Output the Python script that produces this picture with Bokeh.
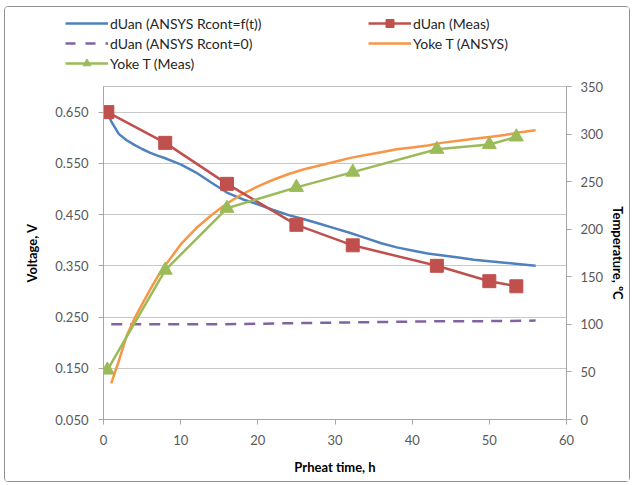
from bokeh.plotting import figure
from bokeh.layouts import column, row
from bokeh.models import Range1d, LinearAxis, FixedTicker, Legend, LegendItem, NumeralTickFormatter
from bokeh.embed import file_html
from bokeh.resources import INLINE

# ---- data ----
t_sim = [0.5, 1, 2, 3, 4, 5, 6, 7, 8, 9, 10, 12, 14, 16, 18, 20, 22, 24, 26, 28,
         30, 32, 34, 36, 38, 40, 42, 44, 46, 48, 50, 52, 54, 56]
v_rcont_ft = [0.650, 0.632, 0.607, 0.595, 0.586, 0.578, 0.571, 0.565, 0.560, 0.554,
              0.548, 0.532, 0.512, 0.493, 0.480, 0.470, 0.459, 0.449, 0.441, 0.432,
              0.423, 0.414, 0.404, 0.394, 0.386, 0.380, 0.374, 0.370, 0.366, 0.362,
              0.359, 0.356, 0.353, 0.350]

t_rcont0 = [1, 5, 10, 15, 20, 25, 30, 35, 40, 45, 50, 56]
v_rcont0 = [0.236, 0.236, 0.236, 0.236, 0.237, 0.238, 0.239, 0.240, 0.241, 0.242, 0.242, 0.243]

t_meas = [0.5, 8, 16, 25, 32.3, 43.2, 50, 53.5]
v_meas = [0.650, 0.590, 0.510, 0.430, 0.390, 0.350, 0.320, 0.310]
temp_meas = [52, 157, 222, 244, 260, 284, 289, 297]

t_yoke_sim = [1, 2, 3, 4, 5, 6, 7, 8, 9, 10, 12, 14, 16, 18, 20, 22, 24, 26, 28, 30,
              32, 34, 36, 38, 40, 42, 44, 46, 48, 50, 52, 54, 56]
temp_yoke_sim = [38, 62, 88, 106, 121, 136, 150, 162, 173, 184, 201, 215, 227, 237,
                 245, 252, 258, 263, 267, 271, 275, 278, 281, 284, 286, 288, 291, 293,
                 295, 297, 299, 302, 304]

x_ticks = [0, 10, 20, 30, 40, 50, 60]
v_ticks = [0.05, 0.15, 0.25, 0.35, 0.45, 0.55, 0.65]
temp_ticks = [0, 50, 100, 150, 200, 250, 300, 350]

series_labels = ["dUan (ANSYS Rcont=f(t))", "dUan (ANSYS Rcont=0)", "Yoke T (Meas)",
                 "dUan (Meas)", "Yoke T (ANSYS)"]

BLUE = "#4F81BD"
RED = "#C0504D"
PURPLE = "#8064A2"
ORANGE = "#F79646"
GREEN = "#9BBB59"
FONT = "Lato"
TICK_COL = "#595959"
AXIS_COL = "#A6A6A6"

W = 624
TOP_H = 73
MAIN_H = 401

# ---------------- main chart ----------------
p = figure(width=W, height=MAIN_H, output_backend="svg", toolbar_location=None,
           x_range=Range1d(0, 60), y_range=Range1d(0.05, 0.70),
           min_border_left=98, min_border_right=62, min_border_top=6,
           min_border_bottom=62)
p.extra_y_ranges = {"temp": Range1d(0, 350)}

p.background_fill_color = "white"
p.border_fill_color = "white"
p.outline_line_color = "#BFBFBF"
p.outline_line_width = 1

p.xgrid.grid_line_color = None
p.ygrid.grid_line_color = "#C8C8C8"
p.ygrid.grid_line_width = 1

left = p.yaxis[0]
bottom = p.xaxis[0]
bottom.ticker = FixedTicker(ticks=x_ticks)
left.ticker = FixedTicker(ticks=v_ticks)
left.formatter = NumeralTickFormatter(format="0.000")
bottom.axis_label = "Prheat time, h"
left.axis_label = "Voltage, V"

right = LinearAxis(y_range_name="temp", ticker=FixedTicker(ticks=temp_ticks),
                   axis_label="Temperature, ºC")
p.add_layout(right, "right")

for ax in [bottom, left, right]:
    ax.axis_line_color = AXIS_COL
    ax.axis_line_width = 1
    ax.major_tick_line_color = AXIS_COL
    ax.major_tick_out = 5
    ax.major_tick_in = 0
    ax.minor_tick_line_color = None
    ax.major_label_text_font = FONT
    ax.major_label_text_font_size = "13px"
    ax.major_label_text_color = TICK_COL
    ax.axis_label_text_font = FONT
    ax.axis_label_text_font_size = "13px"
    ax.axis_label_text_font_style = "bold"
    ax.axis_label_text_color = "#000000"

left.major_label_standoff = 10
left.axis_label_standoff = 12
right.major_label_standoff = 9
right.axis_label_standoff = 4
bottom.major_label_standoff = 10
bottom.axis_label_standoff = 11

p.line(t_sim, v_rcont_ft, line_color=BLUE, line_width=2.5)
p.line(t_rcont0, v_rcont0, line_color=PURPLE, line_width=2.5, line_dash="11 8")
p.line(t_yoke_sim, temp_yoke_sim, line_color=ORANGE, line_width=2.5, y_range_name="temp")
p.line(t_meas, v_meas, line_color=RED, line_width=2.5)
p.scatter(t_meas, v_meas, marker="square", size=13, fill_color=RED, line_color=RED)
p.line(t_meas, temp_meas, line_color=GREEN, line_width=2.5, y_range_name="temp")
p.scatter(t_meas, temp_meas, marker="triangle", size=14, fill_color=GREEN,
          line_color=GREEN, y_range_name="temp")

# ---------------- legend strip (separate plot, frame spans full width) ----------------
lf = figure(width=W, height=TOP_H, output_backend="svg", toolbar_location=None,
            x_range=Range1d(0, 1), y_range=Range1d(0, 1),
            min_border=0, x_axis_type=None, y_axis_type=None)
lf.outline_line_color = None
lf.grid.grid_line_color = None
lf.border_fill_color = "white"

nan = [float("nan")]
g_blue = lf.line(nan, nan, line_color=BLUE, line_width=2.5)
g_purple = lf.line(nan, nan, line_color=PURPLE, line_width=2.5, line_dash="10 10")
g_green = lf.line(nan, nan, line_color=GREEN, line_width=2.5)
g_green_m = lf.scatter(nan, nan, marker="triangle", size=11, fill_color=GREEN, line_color=GREEN)
g_red = lf.line(nan, nan, line_color=RED, line_width=2.5)
g_red_m = lf.scatter(nan, nan, marker="square", size=10, fill_color=RED, line_color=RED)
g_orange = lf.line(nan, nan, line_color=ORANGE, line_width=2.5)

legend = Legend(items=[
    LegendItem(label=series_labels[0], renderers=[g_blue]),
    LegendItem(label=series_labels[1], renderers=[g_purple]),
    LegendItem(label=series_labels[2], renderers=[g_green, g_green_m]),
    LegendItem(label=series_labels[3], renderers=[g_red, g_red_m]),
    LegendItem(label=series_labels[4], renderers=[g_orange]),
], location=(60, 7), orientation="vertical", ncols=2,
    border_line_color=None, background_fill_alpha=0,
    padding=0, margin=0, spacing=0,
    glyph_width=43, glyph_height=20, label_height=20, label_width=258,
    label_standoff=2,
    label_text_font=FONT, label_text_font_size="14px",
    label_text_color="#262626")
lf.add_layout(legend, "center")

layout = column(row(lf), p, spacing=0, margin=(6, 0, 0, 4),
                styles={"border": "1px solid #8F8F8F", "border-radius": "4px"})
open("out.html", "w").write(file_html(layout, INLINE))
